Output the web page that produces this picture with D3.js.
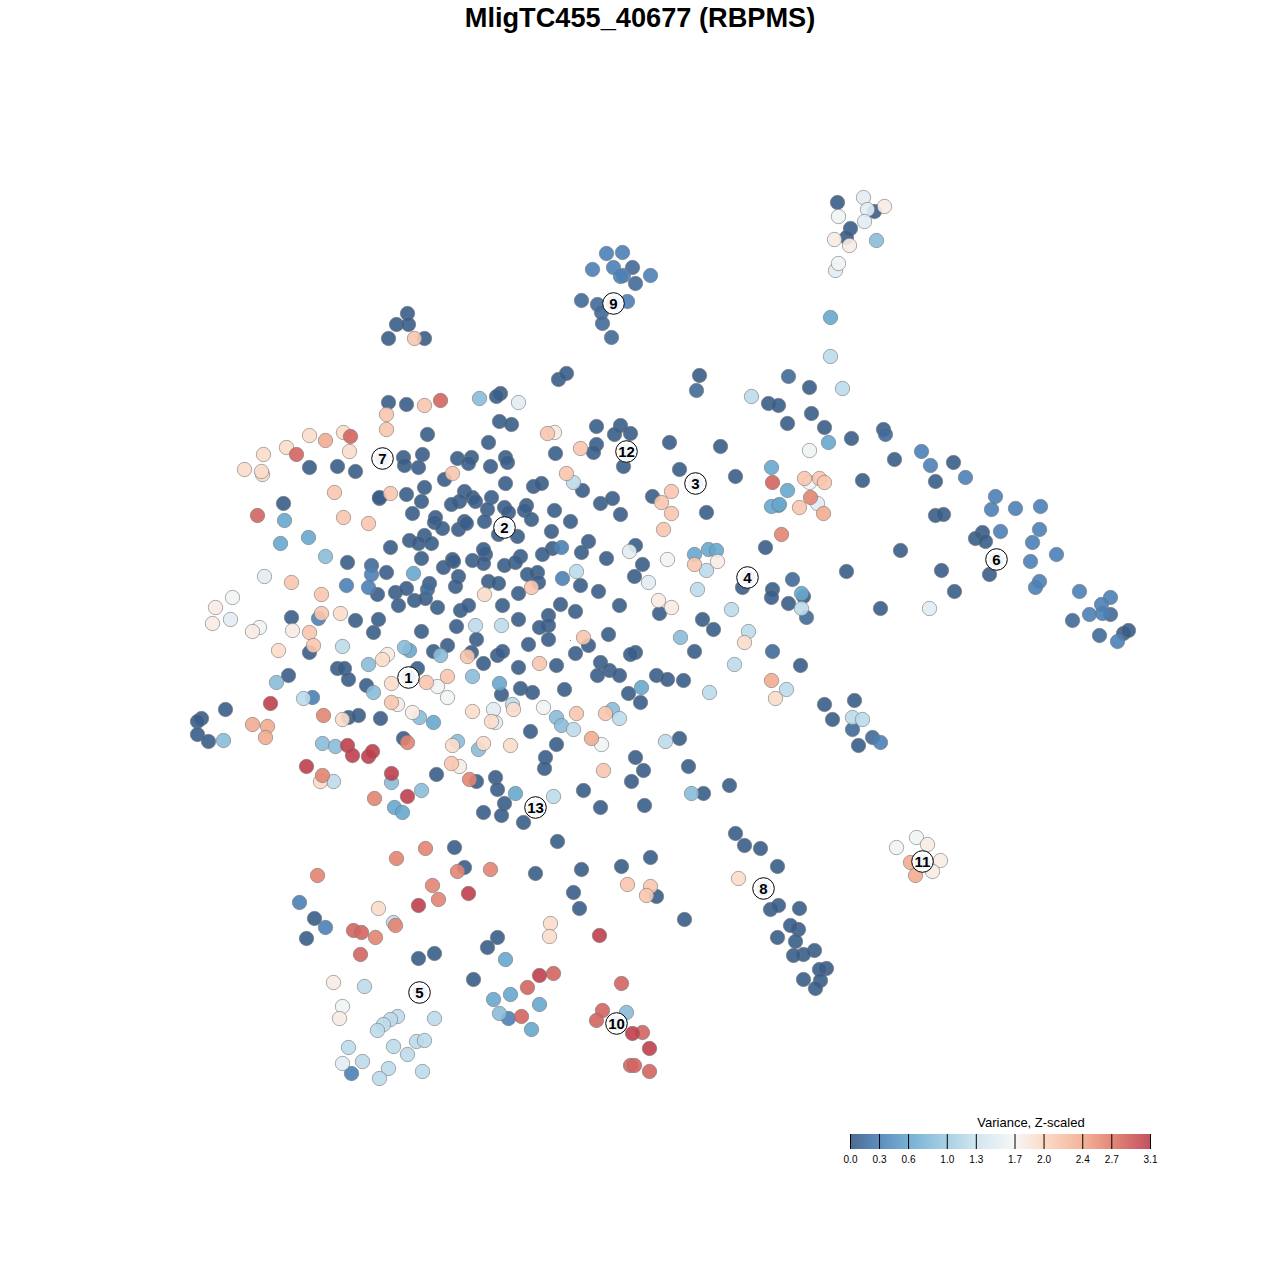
<!DOCTYPE html>
<html><head><meta charset="utf-8">
<script src="https://cdnjs.cloudflare.com/ajax/libs/d3/7.8.5/d3.min.js"></script>
<style>html,body{margin:0;padding:0;background:#fff}svg{display:block}</style>
</head><body><svg id="c" width="1280" height="1280"></svg>
<script>
const chartTitle = "MligTC455_40677 (RBPMS)";
const legendTitle = "Variance, Z-scaled";
const legendTicks = [0.0,0.3,0.6,1.0,1.3,1.7,2.0,2.4,2.7,3.1];
const rampStops = [0,0.3,0.6,1.0,1.3,1.7,2.0,2.4,2.7,3.1];
const rampColors = ["#4c6b91","#5d8ebe","#76b0d3","#a9d0e4","#d1e5f0","#f7f7f7","#fddbc7","#f4b49b","#e3897a","#c5525f"];

// Embedding coordinates, grouped by variance level
const levelDark = [[388,402],[406,404],[427,434],[309,467],[337,466],[355,471],[403,457],[404,465],[422,454],[418,467],[457,458],[471,457],[468,463],[444,479],[379,498],[379,497],[406,494],[424,487],[421,501],[464,491],[472,497],[459,501],[451,504],[475,501],[412,513],[435,517],[434,522],[442,528],[458,529],[464,521],[466,523],[283,503],[409,540],[424,535],[418,543],[431,543],[390,547],[421,558],[452,559],[453,561],[443,567],[472,560],[458,576],[455,586],[347,562],[386,572],[377,594],[395,592],[406,588],[398,605],[414,600],[425,598],[429,583],[437,607],[460,610],[468,605],[291,617],[355,620],[378,619],[373,632],[421,631],[456,626],[476,639],[447,645],[433,651],[471,652],[309,652],[337,668],[344,668],[348,679],[288,675],[417,668],
[558,379],[566,373],[699,375],[500,393],[496,396],[499,421],[511,424],[488,442],[596,426],[620,425],[630,433],[614,434],[596,444],[593,452],[555,453],[669,442],[720,446],[505,457],[507,462],[490,466],[623,466],[679,469],[735,476],[505,483],[533,486],[541,483],[582,490],[491,497],[652,496],[600,503],[612,498],[504,507],[508,512],[487,509],[526,505],[524,510],[554,510],[531,519],[620,514],[706,512],[570,521],[484,521],[498,534],[517,536],[551,531],[588,541],[635,545],[552,548],[581,552],[542,554],[606,558],[520,556],[515,562],[504,565],[485,554],[483,549],[483,563],[642,564],[765,547],[634,576],[537,572],[527,574],[538,582],[488,581],[498,583],[580,585],[598,591],[518,593],[502,605],[560,604],[575,611],[619,605],[659,613],[742,587],[772,589],[771,597],[518,619],[548,615],[548,625],[539,627],[702,619],[713,629],[548,639],[608,634],[528,644],[588,645],[575,653],[497,655],[502,651],[635,652],[630,654],[483,663],[518,667],[556,665],[600,662],[609,670],[597,675],[619,675],[694,651],[656,675],[667,679],[683,680],
[366,685],[225,709],[201,718],[197,721],[197,734],[208,741],[348,717],[358,715],[380,718],[403,738],[476,781],[436,774],[454,847],[464,867],[314,918],[306,938],[418,958],[434,953],[473,979],
[520,688],[532,692],[501,694],[564,689],[628,693],[640,702],[530,731],[556,744],[679,738],[545,757],[544,768],[635,757],[688,766],[643,770],[631,781],[495,777],[497,789],[729,785],[703,793],[583,790],[600,807],[644,805],[504,803],[483,812],[501,815],[523,822],[557,841],[735,833],[744,845],[760,848],[535,873],[581,869],[621,866],[650,857],[777,866],[656,896],[573,892],[579,908],[684,919],[770,909],[778,905],[777,937],[497,937],[487,947],
[809,387],[768,403],[778,405],[811,413],[787,423],[824,427],[851,438],[883,429],[894,459],[953,462],[935,481],[862,480],[935,515],[943,514],[982,532],[975,538],[985,541],[900,550],[941,570],[989,574],[846,571],[954,591],[803,596],[788,603],[880,608],[1123,633],[1128,630],[800,665],[824,704],[854,700],[832,719],[858,745],
[407,313],[396,324],[408,324],[388,338],[424,338],[837,202],[874,211],[850,228],[846,237],[799,908],[798,929],[790,925],[795,941],[814,950],[803,954],[793,955],[826,968],[819,969],[803,979],[820,980],[815,988]];
const levelSlate = [[427,589],[371,565],[696,390],[788,376],[885,434],[792,579],[806,617],[1110,614],[1072,620],[1099,635],[772,651],[852,729],[872,737],[632,267],[635,283],[581,300],[597,304],[601,312],[602,323],[611,337]];
const levelSteel = [[371,574],[346,585],[368,587],[318,618],[561,547],[562,578],[312,697],[299,902],[325,927],[351,1073],[508,1018],[921,451],[930,465],[965,477],[995,496],[991,509],[1015,508],[1040,506],[1000,531],[1039,529],[1032,542],[1056,554],[1030,561],[1039,581],[1035,587],[1079,591],[1110,597],[1101,604],[1102,613],[1089,614],[1117,641],[880,742],[606,253],[622,252],[592,269],[613,267],[623,275],[620,276],[650,275],[627,301]];
const levelSky = [[284,520],[280,543],[308,537],[413,573],[409,650],[433,722],[394,807],[402,812],[499,683],[641,687],[515,793],[505,959],[493,999],[510,994],[539,1004],[531,1029],[694,554],[708,549],[716,550],[771,467],[778,505],[771,506],[787,490],[779,504],[828,442],[801,593],[830,317]];
const levelAzure = [[325,556],[404,647],[440,655],[472,676],[368,664],[276,682],[373,692],[223,740],[419,717],[322,743],[335,746],[457,741],[478,749],[421,790],[391,782],[612,709],[556,717],[561,725],[680,637],[691,793],[499,1013],[626,1012],[479,398],[876,240]];
const levelPale = [[475,625],[342,646],[303,698],[333,781],[573,482],[706,570],[576,571],[697,589],[731,609],[501,625],[748,631],[734,664],[751,396],[709,692],[512,704],[573,729],[619,718],[665,741],[553,796],[393,922],[364,986],[434,1018],[397,1016],[390,1019],[383,1024],[377,1030],[348,1047],[393,1046],[416,1041],[424,1040],[407,1054],[362,1061],[388,1068],[422,1071],[379,1078],[830,356],[842,388],[786,689],[852,717],[862,719],[801,608]];
const levelFrost = [[264,576],[230,619],[518,402],[629,551],[648,582],[493,709],[495,722],[342,1063],[817,503],[929,608],[863,197],[867,209],[864,221],[835,270]];
const levelWhite = [[232,597],[259,627],[437,686],[447,697],[667,559],[543,707],[601,744],[342,1006],[809,450],[809,482],[838,216],[838,263],[916,837],[896,847]];
const levelCream = [[215,607],[212,623],[252,631],[292,630],[387,654],[397,704],[412,712],[459,766],[554,432],[717,561],[658,600],[671,607],[333,982],[339,1018],[884,206],[834,239],[849,245],[927,844],[940,860],[932,871]];
const levelPeach = [[343,432],[309,435],[349,451],[286,447],[263,454],[244,469],[262,474],[261,471],[340,613],[278,650],[382,659],[391,683],[484,594],[342,719],[472,711],[452,745],[320,781],[378,908],[744,642],[775,698],[513,709],[491,721],[483,743],[510,745],[738,878],[550,923],[549,936]];
const levelBlush = [[424,405],[386,414],[386,429],[452,473],[390,493],[334,492],[343,517],[368,523],[291,582],[321,594],[321,613],[309,632],[313,645],[467,656],[426,682],[447,676],[414,338],[547,433],[580,448],[566,473],[671,491],[661,502],[671,513],[663,529],[694,564],[531,587],[583,637],[539,663],[391,702],[451,763],[576,713],[605,713],[603,770],[627,884],[650,886],[646,895],[804,478],[819,478],[824,482],[799,507]];
const levelCoral = [[325,440],[252,724],[267,726],[265,737],[771,680],[591,738],[823,513],[910,862],[915,875]];
const levelSalmon = [[323,715],[407,742],[322,775],[469,779],[374,798],[425,848],[396,858],[457,871],[317,875],[432,885],[438,899],[395,925],[375,937],[490,869],[781,534],[810,497]];
const levelRose = [[440,400],[350,436],[296,454],[257,515],[353,930],[361,932],[360,954],[553,973],[527,987],[621,983],[602,1010],[521,1016],[596,1020],[642,1032],[630,1065],[634,1065],[649,1071],[772,482]];
const levelCrimson = [[270,703],[347,745],[352,755],[368,756],[372,751],[306,766],[391,773],[407,796],[468,893],[418,905],[599,935],[539,975],[632,1033],[649,1048]];

const levels = [
 [levelDark,0.02],[levelSlate,0.12],[levelSteel,0.3],[levelSky,0.6],[levelAzure,0.85],[levelPale,1.2],
 [levelFrost,1.5],[levelWhite,1.65],[levelCream,1.8],[levelPeach,1.95],[levelBlush,2.15],[levelCoral,2.4],
 [levelSalmon,2.65],[levelRose,2.85],[levelCrimson,3.1]];

const clusterIds = ["1","2","3","4","5","6","7","8","9","10","11","12","13"];
const clusterX = [408,504,695,747,419,996,382,763,613,616,922,626,535];
const clusterY = [677,527,483,577,992,559,458,888,303,1023,861,451,807];
const strayX = [570.5];
const strayY = [640.5];

const points = levels.flatMap(([pts,v]) => pts.map(p => ({t1:p[0],t2:p[1],v})));

const svg = d3.select("#c");
const font = "'Liberation Sans',Arial,sans-serif";
const x = d3.scaleLinear().domain([0,1280]).range([0.5,1280.5]);
const y = d3.scaleLinear().domain([0,1280]).range([0.5,1280.5]);
const ramp = d3.scaleLinear().domain(rampStops).range(rampColors).interpolate(d3.interpolateRgb);
const alpha = 0.9;
const unblend = c => { const r = d3.rgb(c), f = u => Math.max(0,(u-255*(1-alpha))/alpha); return d3.rgb(f(r.r),f(r.g),f(r.b)).formatHex(); };

svg.append("text").attr("x",640).attr("y",27).attr("text-anchor","middle")
  .attr("font-family",font).attr("font-weight","bold").attr("font-size",27.2).attr("fill","#000").text(chartTitle);

svg.append("g").selectAll("circle").data(points).join("circle")
  .attr("cx",d=>x(d.t1)).attr("cy",d=>y(d.t2)).attr("r",7.2)
  .attr("fill",d=>unblend(ramp(d.v))).attr("fill-opacity",alpha)
  .attr("stroke","#777").attr("stroke-opacity",0.6).attr("stroke-width",1);

svg.append("g").selectAll("circle").data(strayX).join("circle")
  .attr("cx",d=>d).attr("cy",(d,i)=>strayY[i]).attr("r",0.6).attr("fill","#4a7ab0");

const lab = svg.append("g").selectAll("g").data(clusterIds).join("g")
  .attr("transform",(d,i)=>`translate(${x(clusterX[i])},${y(clusterY[i])})`);
lab.append("circle").attr("r",10.8).attr("fill","#fff").attr("stroke","#000").attr("stroke-width",1);
lab.append("circle").attr("r",7.5).attr("fill","#f1f5f9");
lab.append("text").attr("text-anchor","middle").attr("dy","0.36em").attr("font-family",font)
  .attr("font-weight","bold").attr("font-size",15).attr("fill","#000").text(d=>d);

// legend
const lx = d3.scaleLinear().domain([0,3.1]).range([850,1150]);
const defs = svg.append("defs");
const grad = defs.append("linearGradient").attr("id","vg").attr("gradientUnits","userSpaceOnUse")
  .attr("x1",lx(0)).attr("x2",lx(3.1)).attr("y1",0).attr("y2",0);
grad.selectAll("stop").data(rampStops).join("stop")
  .attr("offset",d=>d/3.1).attr("stop-color",d=>ramp(d));
svg.append("rect").attr("x",lx(0)).attr("y",1134).attr("width",lx(3.1)-lx(0)).attr("height",15).attr("fill","url(#vg)");
const ax = svg.append("g").attr("transform","translate(0,1149)")
  .call(d3.axisBottom(lx).tickValues(legendTicks).tickFormat(d3.format(".1f")).tickSize(-15).tickPadding(7));
ax.select(".domain").remove();
ax.selectAll("line").attr("stroke","#000").attr("stroke-width",1);
ax.selectAll("text").attr("font-family",font).attr("font-size",10).attr("fill","#000");
svg.append("text").attr("x",1031).attr("y",1127).attr("text-anchor","middle").attr("font-family",font)
  .attr("font-size",13).attr("fill","#000").text(legendTitle);
</script></body></html>
